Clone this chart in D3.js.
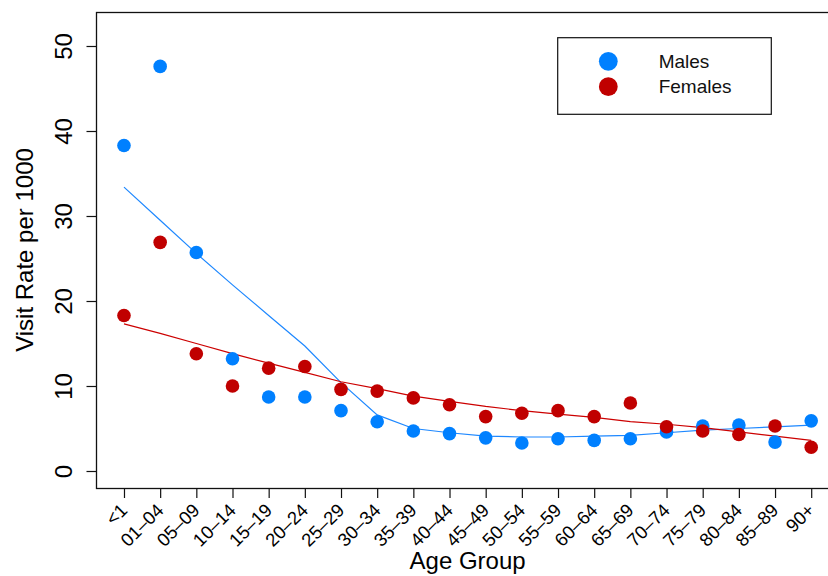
<!DOCTYPE html>
<html>
<head>
<meta charset="utf-8">
<script src="https://cdn.jsdelivr.net/npm/d3@7"></script>
<style>
  html, body { margin: 0; padding: 0; background: #fff; }
  svg { display: block; font-family: "Liberation Sans", Arial, Helvetica, sans-serif; }
</style>
</head>
<body>
<svg id="chart" width="828" height="576"></svg>
<script>
const ageGroups = ["<1","01–04","05–09","10–14","15–19","20–24","25–29","30–34","35–39","40–44",
  "45–49","50–54","55–59","60–64","65–69","70–74","75–79","80–84","85–89","90+"];
const malesRate = [38.3,47.6,25.7,13.2,8.7,8.7,7.1,5.8,4.7,4.4,3.9,3.3,3.8,3.6,3.8,4.6,5.3,5.4,3.4,5.9];
const femalesRate = [18.3,26.9,13.8,10.0,12.1,12.3,9.6,9.4,8.6,7.8,6.4,6.8,7.1,6.4,8.0,5.2,4.7,4.3,5.3,2.8];
const malesSmooth = [33.4,29.5,25.6,21.9,18.3,14.7,10.4,6.6,5.0,4.5,4.1,4.0,4.0,4.1,4.2,4.5,4.8,5.0,5.2,5.4];
const femalesSmooth = [17.3,16.2,15.0,13.8,12.7,11.6,10.5,9.7,8.8,8.2,7.6,7.1,6.7,6.3,5.8,5.5,5.1,4.6,4.1,3.6];
const yTicks = [0,10,20,30,40,50];
const seriesNames = ["Males","Females"];
const seriesColors = ["#0080FF","#C00000"];
const lineColors = ["#1E88FF","#CC0000"];

(function () {
const svg = d3.select("#chart");
const pL = 96.5, pR = 838.7, pT = 12, pB = 488;
const x = d3.scaleLinear().domain([-0.76, ageGroups.length - 1 + 0.76]).range([pL, pR]);
const y = d3.scaleLinear().domain([-2, 54]).range([pB, pT]);

// frame
svg.append("rect").attr("x", pL).attr("y", pT + 0.5)
  .attr("width", pR - pL).attr("height", pB - pT)
  .attr("fill", "none").attr("stroke", "#111").attr("stroke-width", 1.3);

// y axis
const yAxis = svg.append("g").attr("transform", `translate(${pL},0)`)
  .call(d3.axisLeft(y).tickValues(yTicks).tickSize(10).tickPadding(0));
yAxis.select(".domain").remove();
yAxis.selectAll(".tick line").attr("stroke", "#111").attr("stroke-width", 1.2);
yAxis.selectAll(".tick text").remove();
yAxis.selectAll(".tick").append("text")
  .attr("transform", "translate(-33,0) rotate(-90)")
  .attr("text-anchor", "middle").attr("dominant-baseline", "central")
  .attr("fill", "#000").style("font-size", "24px")
  .text(d => d);

// x axis
const xAxis = svg.append("g").attr("transform", `translate(0,${pB})`)
  .call(d3.axisBottom(x).tickValues(d3.range(ageGroups.length)).tickSize(10)
    .tickFormat(i => ageGroups[i]));
xAxis.select(".domain").remove();
xAxis.selectAll(".tick line").attr("stroke", "#111").attr("stroke-width", 1.2);
xAxis.selectAll(".tick text")
  .attr("y", 0).attr("dy", null)
  .attr("transform", "translate(4,23.4) rotate(-45)")
  .attr("text-anchor", "end")
  .attr("fill", "#000").style("font-size", "18.5px").style("font-family", "inherit");

// axis titles
svg.append("text").attr("x", (pL + pR) / 2).attr("y", 569)
  .attr("text-anchor", "middle").style("font-size", "24px").text("Age Group");
svg.append("text").attr("transform", `translate(33,${(pT + pB) / 2}) rotate(-90)`)
  .attr("text-anchor", "middle").style("font-size", "24px").text("Visit Rate per 1000");

// smooth (lowess) lines drawn as straight segments
const line = d3.line().x((d, i) => x(i)).y(d => y(d));
[malesSmooth, femalesSmooth].forEach((s, k) => {
  svg.append("path").datum(s).attr("d", line)
    .attr("fill", "none").attr("stroke", lineColors[k]).attr("stroke-width", 1.2);
});

// points
[malesRate, femalesRate].forEach((s, k) => {
  svg.append("g").selectAll("circle").data(s).join("circle")
    .attr("cx", (d, i) => x(i)).attr("cy", d => y(d)).attr("r", 6.8)
    .attr("fill", seriesColors[k]);
});

// legend
const lg = svg.append("g");
lg.append("rect").attr("x", 557.7).attr("y", 37.7).attr("width", 213.6).attr("height", 76.6)
  .attr("fill", "#fff").attr("stroke", "#111").attr("stroke-width", 1.2);
seriesNames.forEach((n, k) => {
  lg.append("circle").attr("cx", 608.3).attr("cy", 61.3 + k * 25.4).attr("r", 9.4)
    .attr("fill", seriesColors[k]);
  lg.append("text").attr("x", 658.7).attr("y", 61.3 + k * 25.4)
    .attr("dominant-baseline", "central").style("font-size", "19px").attr("fill", "#111").text(n);
});
})();
</script>
</body>
</html>
